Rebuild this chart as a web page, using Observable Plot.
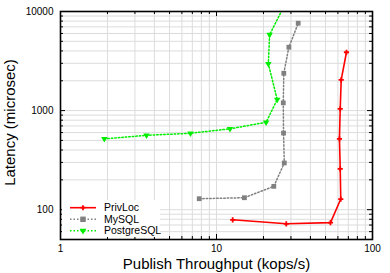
<!DOCTYPE html>
<html>
<head>
<meta charset="utf-8">
<script src="https://cdn.jsdelivr.net/npm/d3@7"></script>
<script src="https://cdn.jsdelivr.net/npm/@observablehq/plot@0.6"></script>
<style>
  html, body { margin: 0; padding: 0; background: #fff; }
  svg { font-family: "Liberation Sans", Arial, sans-serif; }
</style>
</head>
<body>
<div id="chart"></div>
<script>
const seriesNames = ["PrivLoc", "MySQL", "PostgreSQL"];
const seriesColors = ["#ff0000", "#808080", "#00ee00"];

const privX = [12.7, 28.0, 53.8, 62.6, 62.1, 61.4, 62.1, 63.0, 68.1];
const privY = [79, 72, 74, 128, 258, 518, 1040, 2042, 3880];

const mysqlX = [7.75, 15.1, 23.3, 27.2, 26.9, 26.8, 27.0, 29.1, 33.4];
const mysqlY = [129, 132, 172, 296, 593, 1196, 2380, 4360, 7620];

const pgX = [1.91, 3.56, 6.81, 12.2, 20.8, 24.5, 21.5, 21.9, 27.3];
const pgY = [518, 563, 590, 655, 762, 1291, 2963, 5830, 11600];

const xMajor = [1, 10, 100];
const xMinor = [2, 3, 4, 5, 6, 7, 8, 9, 20, 30, 40, 50, 60, 70, 80, 90];
const yMajor = [100, 1000, 10000];
const yMinor = [50, 60, 70, 80, 90, 200, 300, 400, 500, 600, 700, 800, 900, 2000, 3000, 4000, 5000, 6000, 7000, 8000, 9000];

const xLabel = "Publish Throughput (kops/s)";
const yLabel = "Latency (microsec)";

const toRows = (xs, ys, name) => xs.map((x, i) => ({x, y: ys[i], s: name}));
const priv = toRows(privX, privY, seriesNames[0]);
const mysql = toRows(mysqlX, mysqlY, seriesNames[1]);
const pg = toRows(pgX, pgY, seriesNames[2]);

const W = 390, H = 273;
const mL = 60, mR = 18, mT = 11, mB = 34;
const fw = W - mL - mR, fh = H - mT - mB;

const plot = Plot.plot({
  width: W,
  height: H,
  marginLeft: mL,
  marginRight: mR,
  marginTop: mT,
  marginBottom: mB,
  style: {fontFamily: "Liberation Sans, Arial, sans-serif", background: "#fff"},
  x: {type: "log", domain: [1, 100]},
  y: {type: "log", domain: [50, 10000]},
  marks: [
    Plot.ruleX(xMinor.concat(xMajor), {stroke: "#dcdcdc", strokeWidth: 1}),
    Plot.ruleY(yMinor.concat(yMajor), {stroke: "#dcdcdc", strokeWidth: 1}),
    // inward ticks
    Plot.tickY(yMinor, {y: d => d, insetRight: fw - 3, stroke: "#000"}),
    Plot.tickY(yMajor, {y: d => d, insetRight: fw - 5, stroke: "#000"}),
    Plot.tickY(yMinor, {y: d => d, insetLeft: fw - 3, stroke: "#000"}),
    Plot.tickY(yMajor, {y: d => d, insetLeft: fw - 5, stroke: "#000"}),
    Plot.tickX(xMinor, {x: d => d, insetTop: fh - 3, stroke: "#000"}),
    Plot.tickX(xMajor, {x: d => d, insetTop: fh - 5, stroke: "#000"}),
    Plot.tickX(xMinor, {x: d => d, insetBottom: fh - 3, stroke: "#000"}),
    Plot.tickX(xMajor, {x: d => d, insetBottom: fh - 5, stroke: "#000"}),
    Plot.axisX({ticks: xMajor, tickSize: 0, tickPadding: 5, tickFormat: d => String(d), label: null, fontSize: 10}),
    Plot.axisY({ticks: yMajor, tickSize: 0, tickPadding: 7, tickFormat: d => String(d), label: null, fontSize: 10}),
    Plot.text([xLabel], {frameAnchor: "bottom", text: d => d, dy: 25, fontSize: 15, lineAnchor: "middle", textAnchor: "middle"}),
    Plot.text([yLabel], {frameAnchor: "left", text: d => d, dx: -50, dy: -3, rotate: -90, fontSize: 15, lineAnchor: "middle", textAnchor: "middle"}),
    // series
    Plot.line(pg, {x: "x", y: "y", stroke: seriesColors[2], strokeWidth: 1.5, strokeDasharray: "1.5,2", clip: true}),
    Plot.dot(pg, {x: "x", y: "y", symbol: "triangle", rotate: 180, r: 2.4, fill: seriesColors[2], clip: true}),
    Plot.line(mysql, {x: "x", y: "y", stroke: seriesColors[1], strokeWidth: 1.5, strokeDasharray: "1.5,2", clip: true}),
    Plot.dot(mysql, {x: "x", y: "y", symbol: "square", r: 2.7, fill: seriesColors[1], clip: true}),
    Plot.line(priv, {x: "x", y: "y", stroke: seriesColors[0], strokeWidth: 1.6, clip: true}),
    Plot.dot(priv, {x: "x", y: "y", symbol: "plus", r: 1.8, stroke: seriesColors[0], strokeWidth: 1.8, clip: true}),
    Plot.frame({stroke: "#000", strokeWidth: 1.6})
  ]
});

// legend
const svg = d3.select(plot);
const lg = svg.append("g").attr("text-anchor", "start");
lg.append("rect").attr("x", 62).attr("y", 200).attr("width", 98).attr("height", 37).attr("fill", "#fff");
const rowsY = [207.7, 219.3, 230.7];
const dashes = [null, "1.5,2", "1.5,2"];
const symbols = [d3.symbolCross, d3.symbolSquare, d3.symbolTriangle];
seriesNames.forEach((name, i) => {
  const yy = rowsY[i];
  lg.append("line").attr("x1", 70).attr("x2", 96).attr("y1", yy).attr("y2", yy)
    .attr("stroke", seriesColors[i]).attr("stroke-width", 1.6)
    .attr("stroke-dasharray", dashes[i]);
  if (i === 0) {
    lg.append("path").attr("d", "M-2.5,0H2.5M0,-2.5V2.5").attr("transform", `translate(83,${yy})`)
      .attr("stroke", seriesColors[i]).attr("stroke-width", 1.8).attr("fill", "none");
  } else {
    lg.append("path").attr("d", d3.symbol(symbols[i], i === 1 ? 30 : 20)())
      .attr("transform", `translate(83,${yy}) rotate(${i === 2 ? 180 : 0})`)
      .attr("fill", seriesColors[i]);
  }
  lg.append("text").attr("x", 104).attr("y", yy).attr("dy", "0.35em")
    .attr("font-size", 10.5).attr("fill", "#000").text(name);
});

document.getElementById("chart").appendChild(plot);
</script>
</body>
</html>
